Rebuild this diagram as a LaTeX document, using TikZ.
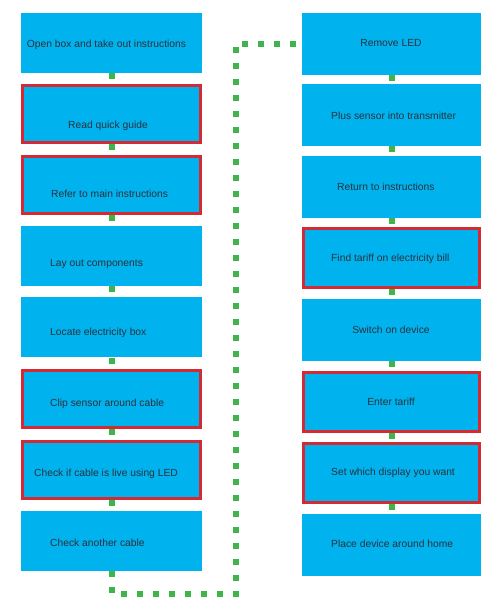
\documentclass[tikz,border=0pt]{standalone}
\usepackage{fontspec}
\setmainfont{Liberation Sans}
\usepackage{xcolor}
\usetikzlibrary{calc}
\definecolor{stepblue}{HTML}{00B2EE}
\definecolor{keyred}{HTML}{D42A33}
\definecolor{linkgreen}{HTML}{3DB54A}
\definecolor{labelgrey}{HTML}{27323C}

\begin{document}
\begin{tikzpicture}[x = 1pt, y = -1pt]
				    \tikzstyle{stepbox}=[fill=stepblue,draw=none,inner sep=0pt,minimum width=181pt,minimum height=60pt]
				    \tikzstyle{rstepbox}=[stepbox,minimum width=179pt,minimum height=62pt]
				    \tikzstyle{keystep}=[stepbox,draw=keyred,line width=3pt,minimum width=178pt,minimum height=57pt]
				    \tikzstyle{rkeystep}=[keystep,minimum width=176pt,minimum height=59pt]
				    \tikzstyle{link}=[draw=linkgreen,line width=6pt,dash pattern=on 6pt off 10pt]
				    \tikzstyle{lbl}=[text=labelgrey,inner sep=0pt,font=\fontsize{10.3}{12}\selectfont]
				    \useasboundingbox (0,0) rectangle (493,608);
				    % left column
				    \node[stepbox] (b1) at (111.5,42.5) {};
				    \node[keystep] (b2) at (111.5,113.7) {};
				    \node[keystep] (b3) at (111.5,184.9) {};
				    \node[stepbox] (b4) at (111.5,256.1) {};
				    \node[stepbox] (b5) at (111.5,327.3) {};
				    \node[keystep] (b6) at (111.5,398.5) {};
				    \node[keystep] (b7) at (111.5,469.7) {};
				    \node[stepbox] (b8) at (111.5,540.9) {};
				    % right column
				    \node[rstepbox] (r1) at (391.5,43.5) {};
				    \node[rstepbox] (r2) at (391.5,115.1) {};
				    \node[rstepbox] (r3) at (391.5,186.7) {};
				    \node[rkeystep] (r4) at (391.5,258.3) {};
				    \node[rstepbox] (r5) at (391.5,329.9) {};
				    \node[rkeystep] (r6) at (391.5,401.5) {};
				    \node[rkeystep] (r7) at (391.5,473.1) {};
				    \node[rstepbox] (r8) at (391.5,544.7) {};
				    % connectors
				    \draw[link] (b1) -- (b2);
				    \draw[link] (b2) -- (b3);
				    \draw[link] (b3) -- (b4);
				    \draw[link] (b4) -- (b5);
				    \draw[link] (b5) -- (b6);
				    \draw[link] (b6) -- (b7);
				    \draw[link] (b7) -- (b8);
				    \coordinate (bend) at (236,594);
				    \draw[link] (b8.south) |- (bend) |- (r1.west);
				    \draw[link] (r1) -- (r2);
				    \draw[link] (r2) -- (r3);
				    \draw[link] (r3) -- (r4);
				    \draw[link] (r4) -- (r5);
				    \draw[link] (r5) -- (r6);
				    \draw[link] (r6) -- (r7);
				    \draw[link] (r7) -- (r8);
				    % texts
				    \node[lbl,anchor=mid] (t1) at (106.5,45) {Open box and take out instructions};
				    \node[lbl,anchor=mid] (t2) at (108,126) {Read quick guide};
				    \node[lbl,anchor=mid west] (t3) at (51,195) {Refer to main instructions};
				    \node[lbl,anchor=mid west] (t4) at (50,264) {Lay out components};
				    \node[lbl,anchor=mid west] (t5) at (50,333) {Locate electricity box};
				    \node[lbl,anchor=mid west] (t6) at (50,404) {Clip sensor around cable};
				    \node[lbl,anchor=mid west] (t7) at (34,474) {Check if cable is live using LED};
				    \node[lbl,anchor=mid west] (t8) at (50,544) {Check another cable};
				    \node[lbl,anchor=mid] (s1) at (391,44) {Remove LED};
				    \node[lbl,anchor=mid west] (s2) at (331,117) {Plus sensor into transmitter};
				    \node[lbl,anchor=mid west] (s3) at (337,188) {Return to instructions};
				    \node[lbl,anchor=mid west] (s4) at (331,259) {Find tariff on electricity bill};
				    \node[lbl,anchor=mid] (s5) at (391,331) {Switch on device};
				    \node[lbl,anchor=mid] (s6) at (391,403) {Enter tariff};
				    \node[lbl,anchor=mid west] (s7) at (331,473) {Set which display you want};
				    \node[lbl,anchor=mid west] (s8) at (331,545) {Place device around home};
				\end{tikzpicture}
\end{document}
